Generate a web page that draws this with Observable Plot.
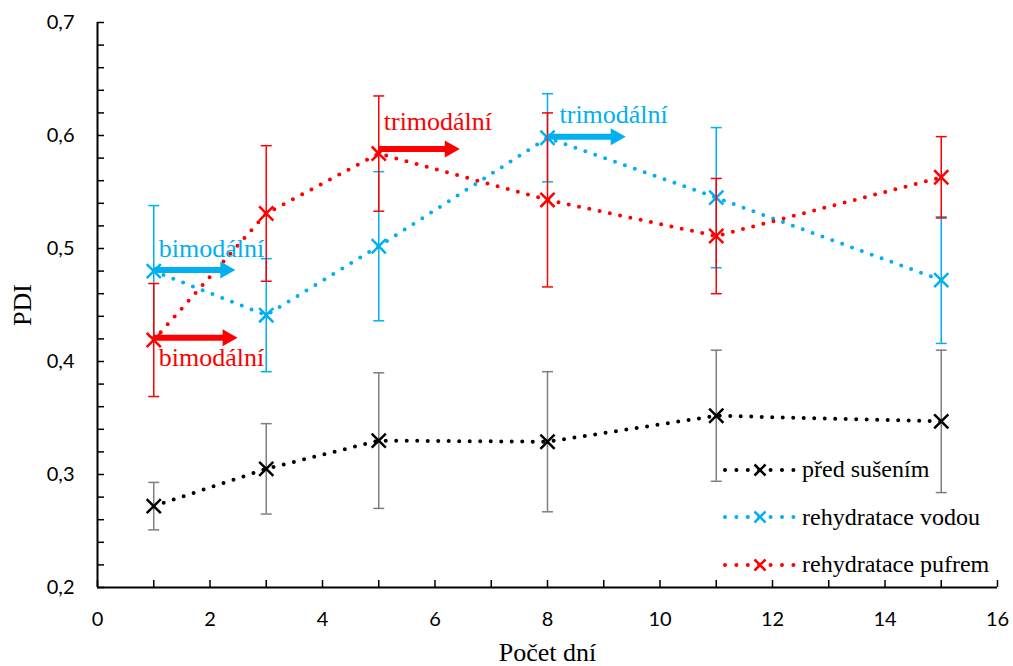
<!DOCTYPE html>
<html><head><meta charset="utf-8">
<script src="https://cdn.jsdelivr.net/npm/d3@7"></script>
<script src="https://cdn.jsdelivr.net/npm/@observablehq/plot@0.6"></script>
<style>
body{margin:0;background:#fff;}
#wrap{position:relative;width:1013px;height:666px;background:#fff;}
svg [aria-label="y-axis label"], svg [aria-label="x-axis label"]{font-family:"Liberation Serif","Times New Roman",serif;font-size:26px;}
.leg{font-family:"Liberation Serif","Times New Roman",serif;font-size:24px;color:#000;white-space:nowrap;}
</style></head><body><div id="wrap"></div>
<script>
// ---- data ----
const days = [1, 3, 5, 8, 11, 15];
const seriesNames = ["před sušením", "rehydratace vodou", "rehydratace pufrem"];
const pdiPred = [0.272, 0.305, 0.330, 0.329, 0.352, 0.347];
const errPred = [0.021, 0.040, 0.060, 0.062, 0.058, 0.063];
const pdiVoda = [0.480, 0.441, 0.502, 0.598, 0.545, 0.472];
const errVoda = [0.058, 0.050, 0.066, 0.039, 0.062, 0.056];
const pdiPufr = [0.419, 0.531, 0.584, 0.543, 0.511, 0.563];
const errPufr = [0.050, 0.060, 0.051, 0.077, 0.051, 0.036];
const xTicks = [0, 2, 4, 6, 8, 10, 12, 14, 16];
const yTicks = [0.2, 0.3, 0.4, 0.5, 0.6, 0.7];
const annLabels = ["bimodální", "bimodální", "trimodální", "trimodální"];
const annSeries = [1, 2, 2, 1];
const annStart = [1, 1, 5, 8];
const annEnd = [2.45, 2.49, 6.44, 9.39];
const annY = [0.481, 0.421, 0.588, 0.599];

// ---- styles ----
const lineColors = ["#000000", "#00b0f0", "#ff0000"];
const errColors = ["#7f7f7f", "#00b0f0", "#ff0000"];
const annDx = [5, 5, 5, 12];
const annDy = [-13, 28, -19, -14];
const serif = "Liberation Serif, Times New Roman, serif";

const values = [pdiPred, pdiVoda, pdiPufr];
const errs = [errPred, errVoda, errPufr];

const capSymbol = {draw(ctx) { ctx.moveTo(-5.5, 0); ctx.lineTo(5.5, 0); }};
const headSymbol = {draw(ctx) { ctx.moveTo(0, 0); ctx.lineTo(-15, -8.5); ctx.lineTo(-15, 8.5); ctx.closePath(); }};

const marks = [
  Plot.axisY({ticks: yTicks, tickSize: 0, tickPadding: 23, tickFormat: d => d.toFixed(1).replace(".", ","),
    label: "PDI", labelAnchor: "center", labelOffset: 85, labelArrow: "none"}),
  Plot.axisY({ticks: d3.range(0, 26).map(i => 0.2 + i * 0.02), tickSize: 7, dx: 7, tickFormat: () => "", label: null, strokeWidth: 1.5}),
  Plot.axisX({ticks: xTicks, tickSize: 0, tickPadding: 24, tickFormat: d => String(d),
    label: "Počet dní", labelAnchor: "center", labelOffset: 73, labelArrow: "none"}),
  Plot.axisX({ticks: d3.range(0, 17), tickSize: 7, dy: -7, tickFormat: () => "", label: null, strokeWidth: 1.5}),
  Plot.ruleX([0], {strokeWidth: 2}),
  Plot.ruleY([0.2], {strokeWidth: 2})
];

values.forEach((vals, i) => {
  const rows = days.map((d, j) => ({x: d, y: vals[j], lo: vals[j] - errs[i][j], hi: vals[j] + errs[i][j]}));
  marks.push(
    Plot.ruleX(rows, {x: "x", y1: "lo", y2: "hi", stroke: errColors[i], strokeWidth: 1.5}),
    Plot.dot(rows, {x: "x", y: "lo", symbol: capSymbol, r: 3, fill: "none", stroke: errColors[i], strokeWidth: 1.5}),
    Plot.dot(rows, {x: "x", y: "hi", symbol: capSymbol, r: 3, fill: "none", stroke: errColors[i], strokeWidth: 1.5}),
    Plot.line(rows, {x: "x", y: "y", curve: "linear", stroke: lineColors[i], strokeWidth: 4,
      strokeDasharray: "0 10.5", strokeLinecap: "round"}),
    Plot.dot(rows, {x: "x", y: "y", symbol: "times", r: 6.5, stroke: lineColors[i], strokeWidth: 2.5})
  );
});

const ann = annLabels.map((t, k) => ({t, x: annStart[k], x2: annEnd[k], y: annY[k], c: lineColors[annSeries[k]], dx: annDx[k], dy: annDy[k]}));
ann.forEach(a => {
  marks.push(
    Plot.arrow([a], {x1: "x", x2: "x2", y1: "y", y2: "y", stroke: a.c, strokeWidth: 6, headLength: 0, insetEnd: 13, strokeLinecap: "butt"}),
    Plot.dot([a], {x: "x2", y: "y", symbol: headSymbol, r: 3, fill: a.c, stroke: "none"}),
    Plot.text([a], {x: "x", y: "y", text: "t", fill: a.c, textAnchor: "start", lineAnchor: "bottom", dx: a.dx, dy: a.dy,
      fontFamily: serif, fontSize: 26})
  );
});

const chart = Plot.plot({
  width: 1013, height: 666,
  marginLeft: 97, marginRight: 16, marginTop: 22, marginBottom: 79,
  x: {domain: [0, 16]},
  y: {domain: [0.2, 0.7]},
  style: {fontFamily: "Lato, sans-serif", fontSize: "20px", color: "#000", background: "#fff", overflow: "visible"},
  marks
});
const wrap = d3.select("#wrap");
wrap.node().appendChild(chart);

// legend (inside the plot area, lower right)
const legend = wrap.append("div").style("position", "absolute").style("left", "718px").style("top", "446px");
seriesNames.forEach((n, i) => {
  const row = legend.append("div").style("display", "flex").style("align-items", "center").style("height", "47.5px");
  const s = row.append("svg").attr("width", 84).attr("height", 20);
  s.append("line").attr("x1", 7).attr("x2", 77).attr("y1", 10).attr("y2", 10)
    .attr("stroke", lineColors[i]).attr("stroke-width", 4).attr("stroke-dasharray", "0 11.4").attr("stroke-linecap", "round");
  s.append("path").attr("d", "M-5.5,-5.5L5.5,5.5M-5.5,5.5L5.5,-5.5").attr("transform", "translate(42,10)")
    .attr("stroke", lineColors[i]).attr("stroke-width", 2.5).attr("fill", "none");
  row.append("span").attr("class", "leg").text(n);
});
</script></body></html>
